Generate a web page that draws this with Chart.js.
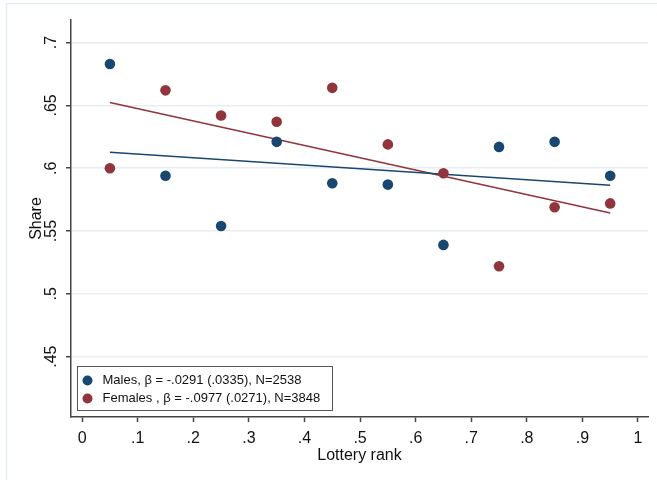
<!DOCTYPE html>
<html>
<head>
<meta charset="utf-8">
<script src="https://cdn.jsdelivr.net/npm/chart.js@4.4.1/dist/chart.umd.min.js"></script>
<style>
  html, body { margin: 0; padding: 0; background: #fff; }
  canvas { display: block; }
</style>
</head>
<body>
<canvas id="myChart" width="657" height="480"></canvas>
<script>
// lottery rank bins (x) and shares
const rankBins = [0.05, 0.15, 0.25, 0.35, 0.45, 0.55, 0.65, 0.75, 0.85, 0.95];
const malesShare = [0.683, 0.594, 0.554, 0.621, 0.588, 0.587, 0.539, 0.617, 0.621, 0.594];
const femalesShare = [0.600, 0.662, 0.642, 0.637, 0.664, 0.619, 0.596, 0.522, 0.569, 0.572];

// fitted lines, end points
const fitX = [0.05, 0.95];
const malesFit = [0.6127, 0.5865];
const femalesFit = [0.6524, 0.5643];

const xTicks = [0, 0.1, 0.2, 0.3, 0.4, 0.5, 0.6, 0.7, 0.8, 0.9, 1];
const yTicks = [0.45, 0.5, 0.55, 0.6, 0.65, 0.7];

const seriesLabels = [
    "Males, \u03b2 = -.0291 (.0335), N=2538",
    "Females , \u03b2 = -.0977 (.0271), N=3848"
];

const navy = '#1a476f';
const maroon = '#90353b';
const FONT = '"Liberation Sans", Arial, sans-serif';

// stata style numbers: .45 instead of 0.45
function stataNum(v) {
    let s = String(Math.round(v * 100) / 100);
    return s.replace(/^0\./, '.');
}

function points(xs, ys) {
    return xs.map((x, i) => ({ x: x, y: ys[i] }));
}

// y tick labels turned 90 degrees, legend box and outer frame
const extras = {
    id: 'extras',
    beforeDraw(chart) {
        const c = chart.ctx;
        c.save();
        c.strokeStyle = '#e3ecf0';
        c.lineWidth = 1.5;
        c.strokeRect(6.5, 3.5, 700, 600);
        c.restore();
    },
    afterDraw(chart) {
        const c = chart.ctx;
        const ys = chart.scales.y;
        const area = chart.chartArea;
        c.save();
        c.fillStyle = '#111';
        c.font = '16px ' + FONT;
        c.textAlign = 'center';
        c.textBaseline = 'middle';
        ys.ticks.forEach(t => {
            const py = ys.getPixelForValue(t.value);
            c.save();
            c.translate(ys.right - 19, py);
            c.rotate(-Math.PI / 2);
            c.fillText(stataNum(t.value), 0, 0);
            c.restore();
        });

        // legend inside the plot region
        const boxL = area.left + 6.5, boxT = area.bottom - 50.5;
        const boxW = 255, boxH = 44;
        c.fillStyle = '#fff';
        c.fillRect(boxL, boxT, boxW, boxH);
        c.strokeStyle = '#555';
        c.lineWidth = 1;
        c.strokeRect(boxL, boxT, boxW, boxH);
        c.font = '13px ' + FONT;
        c.textAlign = 'left';
        const cols = [navy, maroon];
        seriesLabels.forEach((lab, i) => {
            const cy = boxT + 14 + i * 18;
            c.beginPath();
            c.arc(boxL + 10, cy, 5, 0, Math.PI * 2);
            c.fillStyle = cols[i];
            c.fill();
            c.fillStyle = '#111';
            c.fillText(lab, boxL + 25, cy);
        });
        c.restore();
    }
};

let myChart = document.getElementById("myChart").getContext("2d");

let shareChart = new Chart(myChart, {
    type: 'scatter',
    data: {
        datasets: [{
            label: seriesLabels[0],
            data: points(rankBins, malesShare),
            backgroundColor: navy,
            borderColor: navy,
            pointRadius: 5.3,
            pointBorderWidth: 0,
            order: 1
        }, {
            label: seriesLabels[1],
            data: points(rankBins, femalesShare),
            backgroundColor: maroon,
            borderColor: maroon,
            pointRadius: 5.3,
            pointBorderWidth: 0,
            order: 1
        }, {
            type: 'line',
            label: 'males fit',
            data: points(fitX, malesFit),
            borderColor: navy,
            borderWidth: 1.5,
            pointRadius: 0,
            fill: false,
            order: 2
        }, {
            type: 'line',
            label: 'females fit',
            data: points(fitX, femalesFit),
            borderColor: maroon,
            borderWidth: 1.5,
            pointRadius: 0,
            fill: false,
            order: 2
        }]
    },
    options: {
        responsive: false,
        animation: false,
        layout: { padding: { top: 20, right: 9, left: 0, bottom: 0 } },
        plugins: {
            legend: { display: false },
            tooltip: { enabled: false }
        },
        scales: {
            x: {
                type: 'linear',
                min: -0.02,
                max: 1.018,
                afterBuildTicks: s => { s.ticks = xTicks.map(v => ({ value: v })); },
                afterFit: s => { s.height = 63; },
                ticks: {
                    callback: v => stataNum(v),
                    color: '#111',
                    font: { family: FONT, size: 16 },
                    padding: 7,
                    maxRotation: 0
                },
                grid: {
                    drawOnChartArea: false,
                    tickLength: 5,
                    tickColor: '#444',
                    tickWidth: 1.5
                },
                border: { color: '#444', width: 1.5 },
                title: {
                    display: true,
                    text: 'Lottery rank',
                    color: '#111',
                    font: { family: FONT, size: 16 },
                    padding: { top: 0, bottom: 15 }
                }
            },
            y: {
                min: 0.402,
                max: 0.718,
                afterBuildTicks: s => { s.ticks = yTicks.map(v => ({ value: v })); },
                afterFit: s => { s.width = 71; },
                ticks: { display: false },
                grid: {
                    color: '#e6eef1',
                    lineWidth: 1.5,
                    tickLength: 5,
                    tickColor: '#444',
                    tickWidth: 1.5
                },
                border: { color: '#444', width: 1.5 },
                title: {
                    display: true,
                    text: 'Share',
                    color: '#111',
                    font: { family: FONT, size: 16 },
                    padding: { top: 27, bottom: 0 }
                }
            }
        }
    },
    plugins: [extras]
});
</script>
</body>
</html>
